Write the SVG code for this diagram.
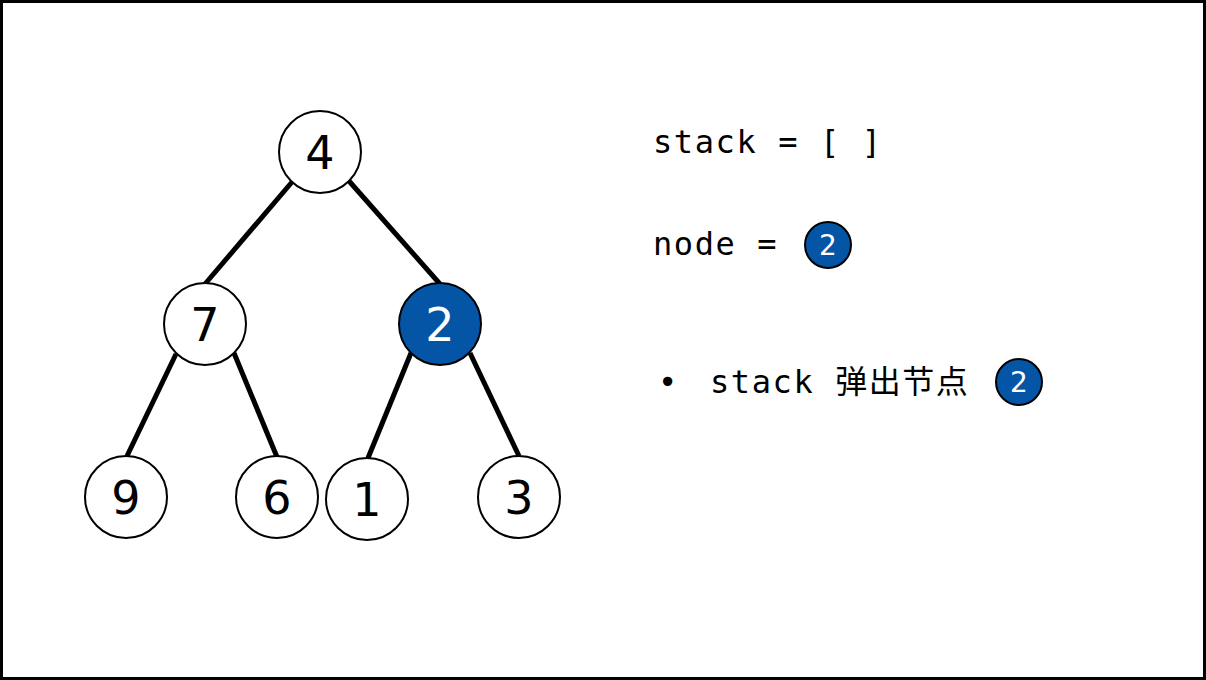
<svg xmlns="http://www.w3.org/2000/svg" width="1206" height="680" viewBox="0 0 1206 680">
<style>
.n circle{fill:#fff;stroke:#000;stroke-width:2}
.n.sel circle{fill:#0455a6}
.n text{font-family:"DejaVu Sans","Noto Sans",sans-serif;font-size:46px;text-anchor:middle;fill:#000}
.n.sel text{fill:#fff}
.e line{stroke:#000;stroke-width:5}
.mono{font-family:"DejaVu Sans Mono","Liberation Mono",monospace;font-size:32px;fill:#000;letter-spacing:1.6px}
.cjk{font-family:"Noto Sans CJK SC",sans-serif;font-size:32px;fill:#000;letter-spacing:1.5px}
.sm circle{fill:#0455a6;stroke:#000;stroke-width:2}
.sm text{font-family:"DejaVu Sans","Noto Sans",sans-serif;font-size:28px;text-anchor:middle;fill:#fff}
</style>
<rect x="1.5" y="1.5" width="1203" height="677" fill="#fff" stroke="#000" stroke-width="3"/>
<g id="edges" class="e">
<line x1="292" y1="182" x2="205" y2="284"/>
<line x1="349" y1="181" x2="440" y2="284"/>
<line x1="176" y1="354" x2="127" y2="456"/>
<line x1="234" y1="353" x2="277" y2="457"/>
<line x1="411" y1="353" x2="368" y2="458"/>
<line x1="470" y1="353" x2="519" y2="456"/>
</g>
<g id="node4" class="n"><circle cx="320" cy="152" r="41"/><text x="320" y="169">4</text></g>
<g id="node7" class="n"><circle cx="205" cy="324" r="41"/><text x="205" y="341">7</text></g>
<g id="node2" class="n sel"><circle cx="440" cy="324" r="41"/><text x="440" y="341">2</text></g>
<g id="node9" class="n"><circle cx="126" cy="497" r="41"/><text x="126" y="514">9</text></g>
<g id="node6" class="n"><circle cx="277" cy="497" r="41"/><text x="277" y="514">6</text></g>
<g id="node1" class="n"><circle cx="367" cy="499" r="41"/><text x="367" y="516">1</text></g>
<g id="node3" class="n"><circle cx="519" cy="497" r="41"/><text x="519" y="514">3</text></g>
<g id="info">
<text class="mono" x="653" y="153">stack = [ ]</text>
<text class="mono" x="653" y="255">node =</text>
<g class="sm"><circle cx="828" cy="245" r="23"/><text x="828" y="255">2</text></g>
<text class="mono" x="658" y="393">•</text>
<text class="mono" x="710" y="393">stack <tspan class="cjk">弹出节点</tspan></text>
<g class="sm"><circle cx="1019" cy="382" r="23"/><text x="1019" y="392">2</text></g>
</g>
</svg>
